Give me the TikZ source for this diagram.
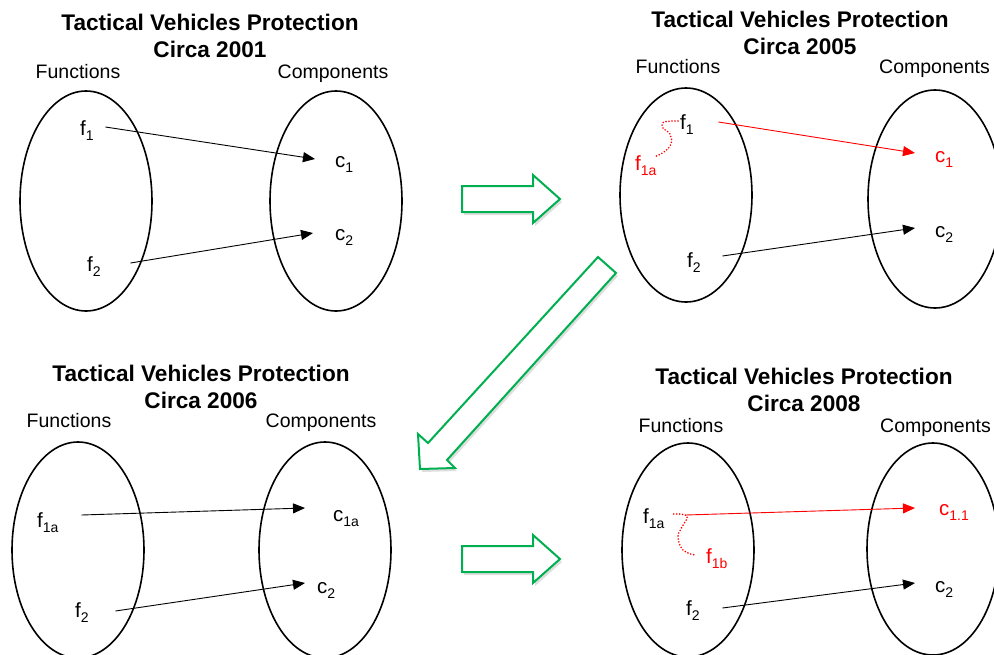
\documentclass[tikz,border=0pt]{standalone}
\usepackage{fontspec}
\setmainfont{Liberation Sans}
\usetikzlibrary{arrows.meta}
\definecolor{arrowgreen}{RGB}{0,176,80}
\definecolor{hotred}{RGB}{255,0,0}
\newcommand\subtxt[1]{\raisebox{-5pt}{\fontsize{14}{14}\selectfont #1}}

\begin{document}
\begin{tikzpicture}[x=1pt,y=-1pt,
  title/.style={font=\fontsize{22.6}{27}\selectfont\bfseries, align=center, inner sep=0},
  colhead/.style={font=\fontsize{19.5}{20}\selectfont, inner sep=0, anchor=base},
  elem/.style={font=\fontsize{20.5}{20}\selectfont, inner sep=0, anchor=base west},
  setline/.style={line width=1.6pt},
  map/.style={line width=0.9pt, -{Triangle[length=12pt,width=10pt]}},
  trace/.style={hotred, line width=1.8pt, line cap=round, dash pattern=on 0pt off 3pt},
  blockarrow/.style={draw=arrowgreen, fill=white, line width=2pt, line join=miter},
  blockshadow/.style={fill=black, opacity=0.13, draw=none},
  rightblock/.pic={
    \path[blockshadow, shift={(2,3)}] (0,-13) -- (71,-13) -- (71,-24) -- (98,0) -- (71,24) -- (71,13) -- (0,13) -- cycle;
    \path[blockarrow] (0,-13) -- (71,-13) -- (71,-24) -- (98,0) -- (71,24) -- (71,13) -- (0,13) -- cycle;
  }
]
\useasboundingbox (0,0) rectangle (994,654);
\fill[white] (0,0) rectangle (994,654);

% ---------- Circa 2001 ----------
\node[title] (t1) at (210,35.5) {Tactical Vehicles Protection\\Circa 2001};
\node[colhead] (fn1) at (78,78) {Functions};
\node[colhead] (cp1) at (333,78) {Components};
\draw[setline] (86,201) ellipse [x radius=66, y radius=110];
\draw[setline] (336,201) ellipse [x radius=66, y radius=110];
\node[elem] (f1p1) at (80,135) {f\subtxt{1}};
\node[elem] (f2p1) at (87,271) {f\subtxt{2}};
\node[elem] (c1p1) at (335,167) {c\subtxt{1}};
\node[elem] (c2p1) at (335,240) {c\subtxt{2}};
\draw[map] ([xshift=11.6pt,yshift=8pt]f1p1.base east) -- ([xshift=-20pt,yshift=8pt]c1p1.base west);
\draw[map] ([xshift=29.6pt,yshift=8pt]f2p1.base east) -- ([xshift=-22pt,yshift=7pt]c2p1.base west);

% ---------- Circa 2005 ----------
\node[title] (t2) at (800,33) {Tactical Vehicles Protection\\Circa 2005};
\node[colhead] (fn2) at (678,73) {Functions};
\node[colhead] (cp2) at (934.5,73) {Components};
\draw[setline] (686,195) ellipse [x radius=66, y radius=107];
\draw[setline] (935,199) ellipse [x radius=67, y radius=109];
\node[elem] (f1p2) at (680,129) {f\subtxt{1}};
\node[elem, hotred] (f1ap2) at (635,170) {f\subtxt{1a}};
\node[elem] (f2p2) at (687,267) {f\subtxt{2}};
\node[elem, hotred] (c1p2) at (935,162) {c\subtxt{1}};
\node[elem] (c2p2) at (935,237) {c\subtxt{2}};
\draw[map, hotred] ([xshift=24.6pt,yshift=7pt]f1p2.base east) -- ([xshift=-20pt,yshift=9pt]c1p2.base west);
\draw[map] ([xshift=21.6pt,yshift=11pt]f2p2.base east) -- ([xshift=-20pt,yshift=9pt]c2p2.base west);
\draw[trace] plot[smooth, tension=0.7] coordinates {([xshift=-2pt,yshift=8pt]f1p2.base west) (664,122) (663,128) (670,134) (671,144) (664,152) ([xshift=-3pt,yshift=13pt]f1ap2.base east)};

% ---------- Circa 2006 ----------
\node[title] (t3) at (201,386.5) {Tactical Vehicles Protection\\Circa 2006};
\node[colhead] (fn3) at (69,427) {Functions};
\node[colhead] (cp3) at (321,427) {Components};
\draw[setline] (78,550) ellipse [x radius=66, y radius=108];
\draw[setline] (325,550) ellipse [x radius=66, y radius=108];
\node[elem] (f1ap3) at (37,527) {f\subtxt{1a}};
\node[elem] (f2p3) at (75,617) {f\subtxt{2}};
\node[elem] (c1ap3) at (333,521) {c\subtxt{1a}};
\node[elem] (c2p3) at (317,593) {c\subtxt{2}};
\draw[map] ([xshift=22.8pt,yshift=12pt]f1ap3.base east) -- ([xshift=-28pt,yshift=13pt]c1ap3.base west);
\draw[map] ([xshift=26.6pt,yshift=6pt]f2p3.base east) -- ([xshift=-12pt,yshift=10pt]c2p3.base west);

% ---------- Circa 2008 ----------
\node[title] (t4) at (804,389.5) {Tactical Vehicles Protection\\Circa 2008};
\node[colhead] (fn4) at (681,432) {Functions};
\node[colhead] (cp4) at (935.5,432) {Components};
\draw[setline] (688,550) ellipse [x radius=66, y radius=107];
\draw[setline] (933,549) ellipse [x radius=66, y radius=106];
\node[elem] (f1ap4) at (643,523) {f\subtxt{1a}};
\node[elem, hotred] (f1bp4) at (706,563) {f\subtxt{1b}};
\node[elem] (f2p4) at (686,615) {f\subtxt{2}};
\node[elem, hotred] (c11p4) at (939,515) {c\subtxt{1.1}};
\node[elem] (c2p4) at (935,592) {c\subtxt{2}};
\draw[map, hotred] ([xshift=20.8pt,yshift=8pt]f1ap4.base east) -- ([xshift=-24pt,yshift=7pt]c11p4.base west);
\draw[map] ([xshift=22.6pt,yshift=7pt]f2p4.base east) -- ([xshift=-20pt,yshift=9pt]c2p4.base west);
\draw[trace] plot[smooth, tension=0.7] coordinates {([xshift=9pt,yshift=9pt]f1ap4.base east) (687,516) (682,527) (678,537) (683,550) ([xshift=-11pt,yshift=8pt]f1bp4.base west)};

% ---------- transitions between stages ----------
\pic at (462,199) {rightblock};
\pic at (462,559) {rightblock};
\path[blockshadow, shift={(2,3)}] (598,257) -- (616,273) -- (447,460) -- (455,468) -- (420,469) -- (418,434) -- (428,443) -- cycle;
\path[blockarrow] (598,257) -- (616,273) -- (447,460) -- (455,468) -- (420,469) -- (418,434) -- (428,443) -- cycle;
\end{tikzpicture}
\end{document}
